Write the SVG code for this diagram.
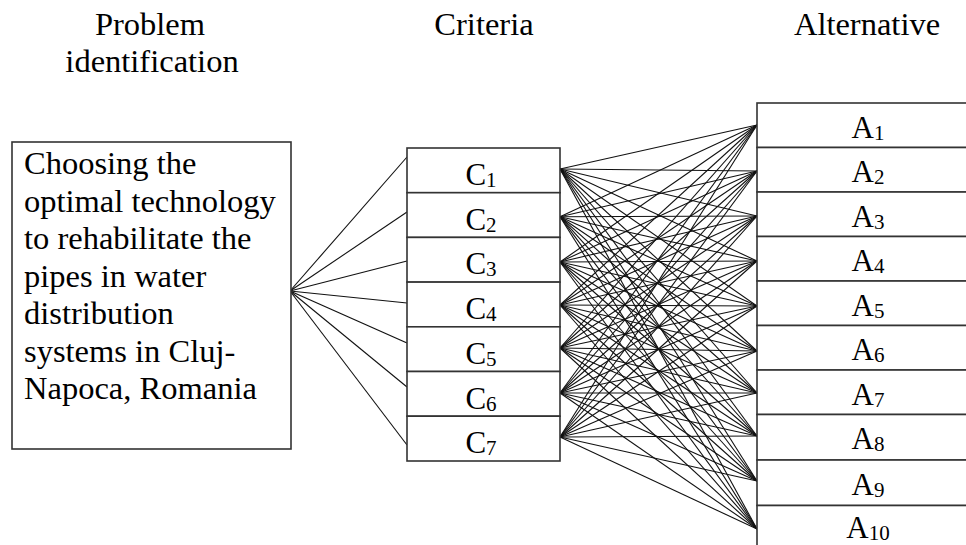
<svg xmlns="http://www.w3.org/2000/svg" width="966" height="545" viewBox="0 0 966 545">
<style>
text{font-family:"Liberation Serif","Times New Roman",serif;fill:#000}
.t{font-size:32.5px}
.h{font-size:32.5px;text-anchor:middle}
.lbl{font-size:31px;text-anchor:middle}
.sub{font-size:21px}
.box{fill:#fff;stroke:#333;stroke-width:1.6}
.ln{stroke:#111;stroke-width:1.1;fill:none}
</style>
<rect width="966" height="545" fill="#fff"/>
<g id="headers">
<text class="h" x="150" y="35">Problem</text>
<text class="h" x="152" y="72">identification</text>
<text class="h" x="484" y="35">Criteria</text>
<text class="h" x="867" y="35">Alternative</text>
</g>
<g id="connectors">
<g id="fan-problem">
<line class="ln" x1="290" y1="291" x2="407" y2="157"/>
<line class="ln" x1="290" y1="291" x2="407" y2="212"/>
<line class="ln" x1="290" y1="291" x2="407" y2="261"/>
<line class="ln" x1="290" y1="291" x2="407" y2="303"/>
<line class="ln" x1="290" y1="291" x2="407" y2="343"/>
<line class="ln" x1="290" y1="291" x2="407" y2="387"/>
<line class="ln" x1="290" y1="291" x2="407" y2="445"/>
</g>
<g id="fan-criteria">
<line class="ln" x1="560" y1="169" x2="757" y2="125"/><line class="ln" x1="560" y1="169" x2="757" y2="171"/><line class="ln" x1="560" y1="169" x2="757" y2="216"/><line class="ln" x1="560" y1="169" x2="757" y2="261"/><line class="ln" x1="560" y1="169" x2="757" y2="306"/><line class="ln" x1="560" y1="169" x2="757" y2="351"/><line class="ln" x1="560" y1="169" x2="757" y2="393"/><line class="ln" x1="560" y1="169" x2="757" y2="436"/><line class="ln" x1="560" y1="169" x2="757" y2="481"/><line class="ln" x1="560" y1="169" x2="757" y2="529"/>
<line class="ln" x1="560" y1="216.7" x2="757" y2="125"/><line class="ln" x1="560" y1="216.7" x2="757" y2="171"/><line class="ln" x1="560" y1="216.7" x2="757" y2="216"/><line class="ln" x1="560" y1="216.7" x2="757" y2="261"/><line class="ln" x1="560" y1="216.7" x2="757" y2="306"/><line class="ln" x1="560" y1="216.7" x2="757" y2="351"/><line class="ln" x1="560" y1="216.7" x2="757" y2="393"/><line class="ln" x1="560" y1="216.7" x2="757" y2="436"/><line class="ln" x1="560" y1="216.7" x2="757" y2="481"/><line class="ln" x1="560" y1="216.7" x2="757" y2="529"/>
<line class="ln" x1="560" y1="262" x2="757" y2="125"/><line class="ln" x1="560" y1="262" x2="757" y2="171"/><line class="ln" x1="560" y1="262" x2="757" y2="216"/><line class="ln" x1="560" y1="262" x2="757" y2="261"/><line class="ln" x1="560" y1="262" x2="757" y2="306"/><line class="ln" x1="560" y1="262" x2="757" y2="351"/><line class="ln" x1="560" y1="262" x2="757" y2="393"/><line class="ln" x1="560" y1="262" x2="757" y2="436"/><line class="ln" x1="560" y1="262" x2="757" y2="481"/><line class="ln" x1="560" y1="262" x2="757" y2="529"/>
<line class="ln" x1="560" y1="305" x2="757" y2="125"/><line class="ln" x1="560" y1="305" x2="757" y2="171"/><line class="ln" x1="560" y1="305" x2="757" y2="216"/><line class="ln" x1="560" y1="305" x2="757" y2="261"/><line class="ln" x1="560" y1="305" x2="757" y2="306"/><line class="ln" x1="560" y1="305" x2="757" y2="351"/><line class="ln" x1="560" y1="305" x2="757" y2="393"/><line class="ln" x1="560" y1="305" x2="757" y2="436"/><line class="ln" x1="560" y1="305" x2="757" y2="481"/><line class="ln" x1="560" y1="305" x2="757" y2="529"/>
<line class="ln" x1="560" y1="348" x2="757" y2="125"/><line class="ln" x1="560" y1="348" x2="757" y2="171"/><line class="ln" x1="560" y1="348" x2="757" y2="216"/><line class="ln" x1="560" y1="348" x2="757" y2="261"/><line class="ln" x1="560" y1="348" x2="757" y2="306"/><line class="ln" x1="560" y1="348" x2="757" y2="351"/><line class="ln" x1="560" y1="348" x2="757" y2="393"/><line class="ln" x1="560" y1="348" x2="757" y2="436"/><line class="ln" x1="560" y1="348" x2="757" y2="481"/><line class="ln" x1="560" y1="348" x2="757" y2="529"/>
<line class="ln" x1="560" y1="393" x2="757" y2="125"/><line class="ln" x1="560" y1="393" x2="757" y2="171"/><line class="ln" x1="560" y1="393" x2="757" y2="216"/><line class="ln" x1="560" y1="393" x2="757" y2="261"/><line class="ln" x1="560" y1="393" x2="757" y2="306"/><line class="ln" x1="560" y1="393" x2="757" y2="351"/><line class="ln" x1="560" y1="393" x2="757" y2="393"/><line class="ln" x1="560" y1="393" x2="757" y2="436"/><line class="ln" x1="560" y1="393" x2="757" y2="481"/><line class="ln" x1="560" y1="393" x2="757" y2="529"/>
<line class="ln" x1="560" y1="437" x2="757" y2="125"/><line class="ln" x1="560" y1="437" x2="757" y2="171"/><line class="ln" x1="560" y1="437" x2="757" y2="216"/><line class="ln" x1="560" y1="437" x2="757" y2="261"/><line class="ln" x1="560" y1="437" x2="757" y2="306"/><line class="ln" x1="560" y1="437" x2="757" y2="351"/><line class="ln" x1="560" y1="437" x2="757" y2="393"/><line class="ln" x1="560" y1="437" x2="757" y2="436"/><line class="ln" x1="560" y1="437" x2="757" y2="481"/><line class="ln" x1="560" y1="437" x2="757" y2="529"/>
</g>
</g>
<g id="problem">
<rect class="box" x="12" y="142" width="279" height="307"/>
<text class="t" x="24" y="174">Choosing the</text>
<text class="t" x="24" y="211.5">optimal technology</text>
<text class="t" x="24" y="249">to rehabilitate the</text>
<text class="t" x="24" y="286.5">pipes in water</text>
<text class="t" x="24" y="324">distribution</text>
<text class="t" x="24" y="361.5">systems in Cluj-</text>
<text class="t" x="24" y="399">Napoca, Romania</text>
</g>
<g id="C1"><rect class="box" x="407" y="148" width="153" height="44.7"/><text class="lbl" x="481" y="185">C<tspan class="sub" dy="2">1</tspan></text></g>
<g id="C2"><rect class="box" x="407" y="192.7" width="153" height="44.7"/><text class="lbl" x="481" y="229.7">C<tspan class="sub" dy="2">2</tspan></text></g>
<g id="C3"><rect class="box" x="407" y="237.4" width="153" height="44.7"/><text class="lbl" x="481" y="274.4">C<tspan class="sub" dy="2">3</tspan></text></g>
<g id="C4"><rect class="box" x="407" y="282.1" width="153" height="44.7"/><text class="lbl" x="481" y="319.1">C<tspan class="sub" dy="2">4</tspan></text></g>
<g id="C5"><rect class="box" x="407" y="326.8" width="153" height="44.7"/><text class="lbl" x="481" y="363.8">C<tspan class="sub" dy="2">5</tspan></text></g>
<g id="C6"><rect class="box" x="407" y="371.5" width="153" height="44.7"/><text class="lbl" x="481" y="408.5">C<tspan class="sub" dy="2">6</tspan></text></g>
<g id="C7"><rect class="box" x="407" y="416.2" width="153" height="44.8"/><text class="lbl" x="481" y="453.2">C<tspan class="sub" dy="2">7</tspan></text></g>
<g id="A1"><rect class="box" x="757" y="103" width="222" height="44.5"/><text class="lbl" x="868" y="137.7">A<tspan class="sub" dy="2">1</tspan></text></g>
<g id="A2"><rect class="box" x="757" y="147.5" width="222" height="44.5"/><text class="lbl" x="868" y="182.2">A<tspan class="sub" dy="2">2</tspan></text></g>
<g id="A3"><rect class="box" x="757" y="192" width="222" height="44.5"/><text class="lbl" x="868" y="226.7">A<tspan class="sub" dy="2">3</tspan></text></g>
<g id="A4"><rect class="box" x="757" y="236.5" width="222" height="44.5"/><text class="lbl" x="868" y="271.2">A<tspan class="sub" dy="2">4</tspan></text></g>
<g id="A5"><rect class="box" x="757" y="281" width="222" height="44.5"/><text class="lbl" x="868" y="315.7">A<tspan class="sub" dy="2">5</tspan></text></g>
<g id="A6"><rect class="box" x="757" y="325.5" width="222" height="44.5"/><text class="lbl" x="868" y="360.2">A<tspan class="sub" dy="2">6</tspan></text></g>
<g id="A7"><rect class="box" x="757" y="370" width="222" height="44.5"/><text class="lbl" x="868" y="404.7">A<tspan class="sub" dy="2">7</tspan></text></g>
<g id="A8"><rect class="box" x="757" y="414.5" width="222" height="45.5"/><text class="lbl" x="868" y="449.2">A<tspan class="sub" dy="2">8</tspan></text></g>
<g id="A9"><rect class="box" x="757" y="460" width="222" height="45.5"/><text class="lbl" x="868" y="494.7">A<tspan class="sub" dy="2">9</tspan></text></g>
<g id="A10"><rect class="box" x="757" y="505.5" width="222" height="50"/><text class="lbl" x="868" y="538">A<tspan class="sub" dy="2">10</tspan></text></g>
</svg>
